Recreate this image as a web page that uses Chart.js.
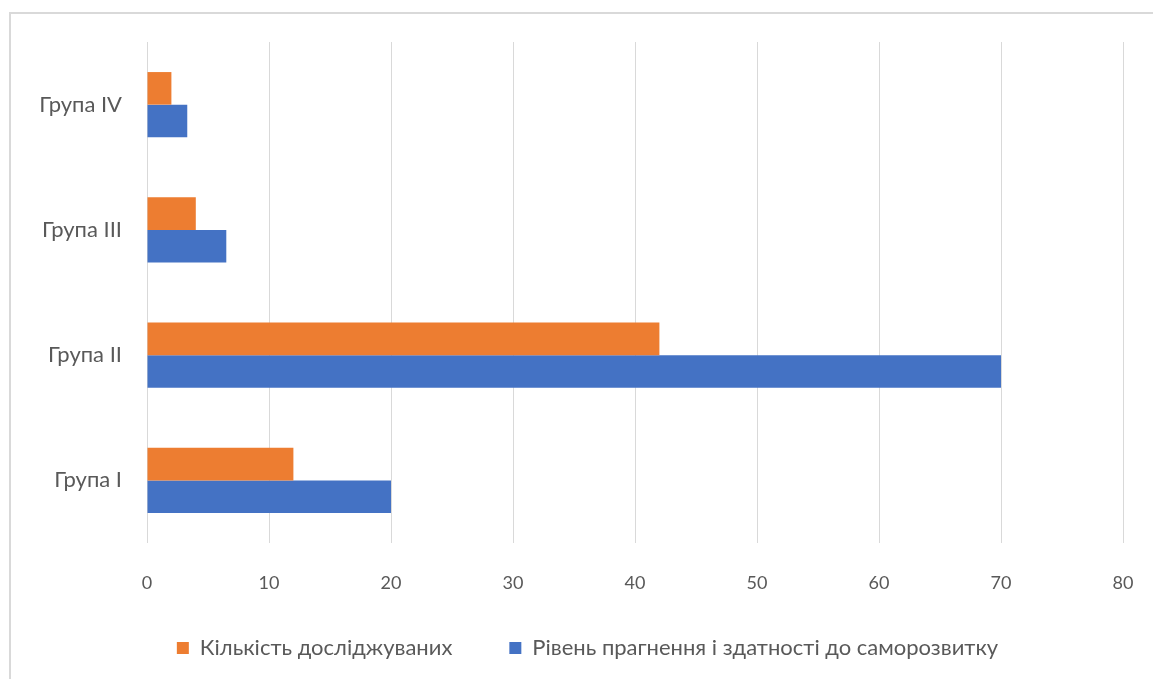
<!DOCTYPE html>
<html>
<head>
<meta charset="utf-8">
<script src="https://cdn.jsdelivr.net/npm/chart.js@4"></script>
<style>
  html, body { margin: 0; padding: 0; background: #ffffff; width: 1153px; height: 679px; overflow: hidden; }
  #box { position: absolute; left: 9px; top: 12px; width: 1200px; height: 720px; border: 2px solid #d9d9d9; background: #ffffff; }
  #wrap { position: absolute; left: 0; top: 0; width: 1153px; height: 679px; }
</style>
</head>
<body>
<div id="box"></div>
<div id="wrap"><canvas id="c" width="1153" height="679"></canvas></div>
<script>
const categories = ['Група IV', 'Група III', 'Група II', 'Група I'];
const countValues = [2, 4, 42, 12];
const levelValues = [3.3, 6.5, 70, 20];
const seriesNames = ['Кількість досліджуваних', 'Рівень прагнення і здатності до саморозвитку'];
const xTicksMax = 80;

const textColor = '#595959';
const labelFont = { family: 'Lato, sans-serif', size: 22 };
const tickFont = { family: 'Lato, sans-serif', size: 18 };

const shiftLegend = {
  id: 'shiftLegend',
  afterLayout(chart) {
    const lg = chart.legend;
    if (!lg) return;
    lg.top -= 10; lg.bottom -= 10;
    lg.left += 26; lg.right += 26;
  }
};

new Chart(document.getElementById('c'), {
  type: 'bar',
  data: {
    labels: categories,
    datasets: [
      { label: seriesNames[0], data: countValues, backgroundColor: '#ED7D31', borderWidth: 0,
        categoryPercentage: 0.52, barPercentage: 1.0 },
      { label: seriesNames[1], data: levelValues, backgroundColor: '#4472C4', borderWidth: 0,
        categoryPercentage: 0.52, barPercentage: 1.0 }
    ]
  },
  options: {
    indexAxis: 'y',
    responsive: false,
    animation: false,
    layout: { padding: { left: 0, right: 30, top: 42, bottom: 0 } },
    scales: {
      x: {
        min: 0, max: xTicksMax,
        ticks: { stepSize: 10, color: textColor, font: tickFont, padding: 29 },
        grid: { color: '#d9d9d9', lineWidth: 1, drawTicks: false },
        border: { display: false },
        afterFit: (s) => { s.height = 47; s.paddingRight = 0; s.paddingLeft = 0; }
      },
      y: {
        ticks: { color: textColor, font: labelFont, padding: 25 },
        grid: { display: false, drawTicks: false },
        border: { display: false },
        afterFit: (s) => { s.width = 147; }
      }
    },
    plugins: {
      legend: {
        position: 'bottom',
        labels: { color: textColor, font: labelFont, boxWidth: 12, boxHeight: 12, padding: 57 }
      },
      tooltip: { enabled: false }
    }
  },
  plugins: [shiftLegend]
});
</script>
</body>
</html>
